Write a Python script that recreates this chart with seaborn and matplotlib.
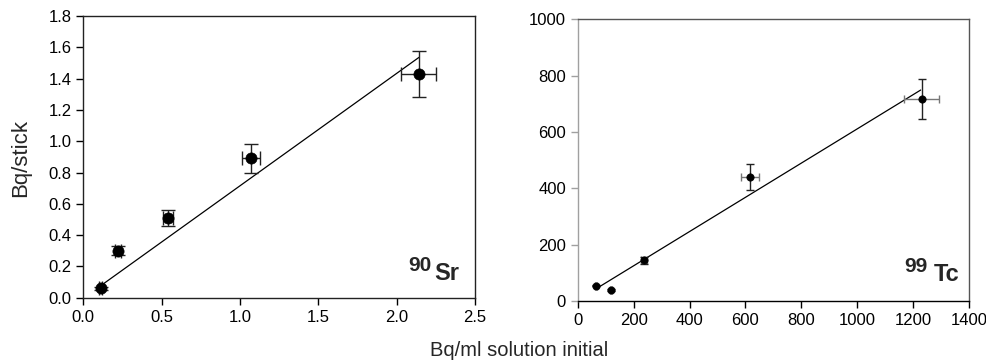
import numpy as np
import pandas as pd
import matplotlib
matplotlib.use("Agg")
import matplotlib.pyplot as plt
import seaborn as sns

# ---- data: 90Sr ----
sr_x = [0.11, 0.22, 0.54, 1.07, 2.14]
sr_y = [0.06, 0.30, 0.51, 0.89, 1.43]
sr_xerr = [0.01, 0.02, 0.03, 0.06, 0.11]
sr_yerr = [0.01, 0.03, 0.05, 0.09, 0.145]
sr_fit_x = [0.117, 2.142]
sr_fit_slope, sr_fit_icpt = 0.7185, -0.003

# ---- data: 99Tc ----
tc_x = [65, 118, 237, 617, 1230]
tc_y = [55, 40, 145, 440, 718]
tc_xerr = [3, 4, 12, 32, 62]
tc_yerr = [3, 3, 12, 45, 71]
tc_fit_x = [74, 1227]
tc_fit_slope, tc_fit_icpt = 0.6075, 3.5

sr_xticks = [0.0, 0.5, 1.0, 1.5, 2.0, 2.5]
sr_yticks = [0.0, 0.2, 0.4, 0.6, 0.8, 1.0, 1.2, 1.4, 1.6, 1.8]
tc_xticks = [0, 200, 400, 600, 800, 1000, 1200, 1400]
tc_yticks = [0, 200, 400, 600, 800, 1000]

sns.set_style("ticks")
plt.rcParams['font.family'] = ['Liberation Sans', 'DejaVu Sans']

fig = plt.figure(figsize=(9.87, 3.64), dpi=100)
ax1 = fig.add_axes([0.0844, 0.182, 0.397, 0.774])
ax2 = fig.add_axes([0.5853, 0.173, 0.3965, 0.774])

def panel(ax, x, y, xerr, yerr, fx, slope, icpt, ms, cap, xecol):
    df = pd.DataFrame({"x": x, "y": y})
    fdf = pd.DataFrame({"x": fx, "y": [slope * v + icpt for v in fx]})
    sns.lineplot(data=fdf, x="x", y="y", ax=ax, color="black", lw=0.9, zorder=2)
    ax.errorbar(x, y, xerr=xerr, fmt="none", ecolor=xecol,
                elinewidth=1.0, capsize=cap, capthick=1.0, zorder=3)
    ax.errorbar(x, y, yerr=yerr, fmt="none", ecolor="#222222",
                elinewidth=1.0, capsize=cap, capthick=1.0, zorder=3)
    sns.scatterplot(data=df, x="x", y="y", ax=ax, color="black", s=ms,
                    edgecolor="black", linewidth=0.5, zorder=4)
    ax.set_xlabel("")
    ax.set_ylabel("")
    for s in ax.spines.values():
        s.set_linewidth(1.0)
    ax.tick_params(direction="out", length=5, width=1.0, labelsize=12,
                   colors="black", top=False, right=False)

panel(ax1, sr_x, sr_y, sr_xerr, sr_yerr, sr_fit_x, sr_fit_slope, sr_fit_icpt, 65, 5, "#222222")
ax1.set_xlim(0, 2.5)
ax1.set_ylim(0, 1.8)
ax1.set_xticks(sr_xticks)
ax1.set_yticks(sr_yticks)
ax1.set_xticklabels([f"{v:.1f}" for v in sr_xticks])
ax1.set_yticklabels([f"{v:.1f}" for v in sr_yticks])
for s in ax1.spines.values():
    s.set_color("#222222")

panel(ax2, tc_x, tc_y, tc_xerr, tc_yerr, tc_fit_x, tc_fit_slope, tc_fit_icpt, 28, 3, "#777777")
ax2.set_xlim(0, 1400)
ax2.set_ylim(0, 1000)
ax2.set_xticks(tc_xticks)
ax2.set_yticks(tc_yticks)
ax2.spines["left"].set_color("#a0a0a0")
ax2.spines["top"].set_color("#555555")
ax2.spines["right"].set_color("#555555")
ax2.spines["bottom"].set_color("black")
ax2.tick_params(axis="y", color="#a0a0a0")

# isotope labels
ax1.text(0.888, 0.096, "90", transform=ax1.transAxes, fontsize=15, fontweight="bold",
         ha="right", va="baseline")
ax1.text(0.895, 0.063, "Sr", transform=ax1.transAxes, fontsize=17, fontweight="bold",
         ha="left", va="baseline")
ax2.text(0.895, 0.103, "99", transform=ax2.transAxes, fontsize=15, fontweight="bold",
         ha="right", va="baseline")
ax2.text(0.909, 0.071, "Tc", transform=ax2.transAxes, fontsize=17, fontweight="bold",
         ha="left", va="baseline")

fig.text(0.0213, 0.5646, "Bq/stick", rotation=90, ha="center", va="center", fontsize=16)
fig.text(0.526, 0.036, "Bq/ml solution initial", ha="center", va="center", fontsize=14.5)

fig.savefig("out.png", dpi=100)
